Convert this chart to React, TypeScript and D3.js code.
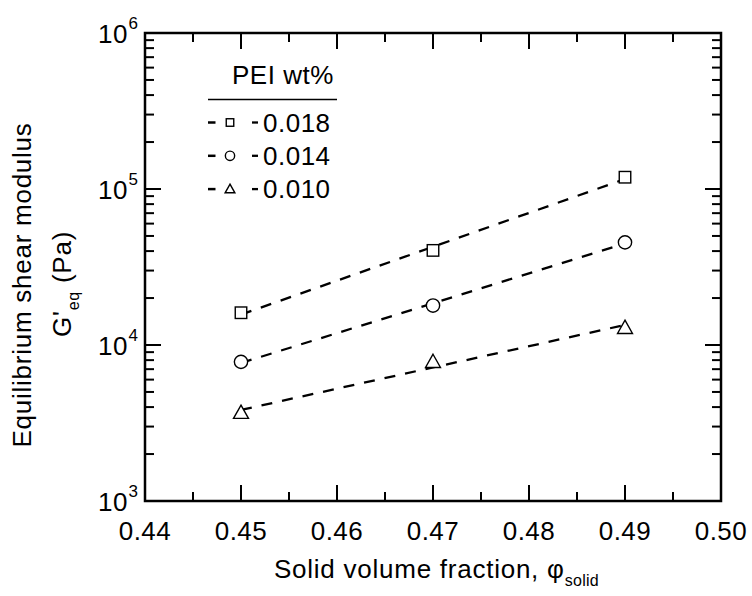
import React from "react";
import * as d3 from "d3";

const phiValues = [0.45, 0.47, 0.49];
const g018 = [16100, 40400, 119000];
const g014 = [7800, 17900, 45500];
const g010 = [3680, 7800, 12900];
const seriesLabels = ["0.018", "0.014", "0.010"];
const seriesShapes = ["square", "circle", "triangle"];
const xTickValues = [0.44, 0.45, 0.46, 0.47, 0.48, 0.49, 0.5];
const yTickExps = [3, 4, 5, 6];

const W = 752;
const H = 596;
const L = 145, R = 721, T = 33, B = 501;
const FONT = "'Liberation Sans', Arial, Helvetica, sans-serif";

function Marker({ shape, cx, cy, s }: { shape: string; cx: number; cy: number; s: number }) {
  const common = { fill: "#fff", stroke: "#000", strokeWidth: 1.4 };
  if (shape === "square") return <rect x={cx - s / 2} y={cy - s / 2} width={s} height={s} {...common} />;
  if (shape === "circle") return <circle cx={cx} cy={cy} r={s / 2 + 0.9} {...common} />;
  const h = s * 1.1;
  const w = s * 1.3;
  return <path d={`M${cx},${cy - h * 0.6} L${cx + w / 2},${cy + h * 0.45} L${cx - w / 2},${cy + h * 0.45} Z`} {...common} />;
}

function fit(xs: number[], ys: number[]) {
  const ly = ys.map((v) => Math.log10(v));
  const mx = d3.mean(xs)!;
  const my = d3.mean(ly)!;
  const sxy = d3.sum(xs.map((x, i) => (x - mx) * (ly[i] - my)));
  const sxx = d3.sum(xs.map((x) => (x - mx) ** 2));
  const b = sxy / sxx;
  const a = my - b * mx;
  return (x: number) => Math.pow(10, a + b * x);
}

export default function App() {
  const x = d3.scaleLinear().domain([0.44, 0.5]).range([L, R]);
  const y = d3.scaleLog().domain([1e3, 1e6]).range([B, T]);
  const series = [g018, g014, g010];

  const xMinor = d3.range(0.445, 0.5, 0.01);
  const yMinor: number[] = [];
  for (let e = 3; e < 6; e++) for (let m = 2; m <= 9; m++) yMinor.push(m * Math.pow(10, e));

  const major = 16, minor = 9;
  const lineGen = d3.line<number[]>().x((d) => x(d[0])).y((d) => y(d[1]));

  return (
    <div style={{ position: "absolute", left: 0, top: 0 }}>
      <svg width={W} height={H} style={{ display: "block", background: "#fff" }} fontFamily={FONT}>
        {xTickValues.map((v) => (
          <g key={"xt" + v}>
            <line x1={x(v)} x2={x(v)} y1={B} y2={B - major} stroke="#000" strokeWidth={2} />
            <line x1={x(v)} x2={x(v)} y1={T} y2={T + major} stroke="#000" strokeWidth={2} />
            <text x={x(v)} y={540} textAnchor="middle" fontSize={26} letterSpacing={0.5}>{v.toFixed(2)}</text>
          </g>
        ))}
        {xMinor.map((v) => (
          <g key={"xm" + v}>
            <line x1={x(v)} x2={x(v)} y1={B} y2={B - minor} stroke="#000" strokeWidth={2} />
            <line x1={x(v)} x2={x(v)} y1={T} y2={T + minor} stroke="#000" strokeWidth={2} />
          </g>
        ))}
        {yTickExps.map((e) => {
          const yy = y(Math.pow(10, e));
          return (
            <g key={"yt" + e}>
              <line x1={L} x2={L + major} y1={yy} y2={yy} stroke="#000" strokeWidth={2} />
              <line x1={R} x2={R - major} y1={yy} y2={yy} stroke="#000" strokeWidth={2} />
              <text x={128} y={yy + 9.5} textAnchor="end" fontSize={26} letterSpacing={0.5}>10</text>
              <text x={128.5} y={yy - 4} textAnchor="start" fontSize={17}>{e}</text>
            </g>
          );
        })}
        {yMinor.map((v) => (
          <g key={"ym" + v}>
            <line x1={L} x2={L + minor} y1={y(v)} y2={y(v)} stroke="#000" strokeWidth={2} />
            <line x1={R} x2={R - minor} y1={y(v)} y2={y(v)} stroke="#000" strokeWidth={2} />
          </g>
        ))}
        <rect x={L} y={T} width={R - L} height={B - T} fill="none" stroke="#000" strokeWidth={2.5} />

        {series.map((s, i) => {
          const f = fit(phiValues, s);
          const pts = [phiValues[0], phiValues[phiValues.length - 1]].map((p) => [p, f(p)]);
          return (
            <path key={"fl" + i} d={lineGen(pts) || ""} fill="none" stroke="#000" strokeWidth={2.3} strokeDasharray="11,10" />
          );
        })}
        {series.map((s, i) =>
          s.map((v, j) => <Marker key={"m" + i + j} shape={seriesShapes[i]} cx={x(phiValues[j])} cy={y(v)} s={11.5} />)
        )}

        <text x={232} y={84} fontSize={26} letterSpacing={0.5}>PEI wt%</text>
        <line x1={208} x2={337} y1={99.5} y2={99.5} stroke="#000" strokeWidth={1.5} />
        {seriesLabels.map((lab, i) => {
          const cy = 122.5 + i * 33.3;
          return (
            <g key={"lg" + i}>
              <line x1={208} x2={215.5} y1={cy} y2={cy} stroke="#000" strokeWidth={2.5} />
              <Marker shape={seriesShapes[i]} cx={230} cy={cy} s={7.5} />
              <line x1={252} x2={258} y1={cy} y2={cy} stroke="#000" strokeWidth={2.3} />
              <text x={263} y={cy + 9.3} fontSize={26} letterSpacing={0.5}>{lab}</text>
            </g>
          );
        })}

        <text x={274} y={578} textAnchor="start" fontSize={26} letterSpacing={0.75}>
          Solid volume fraction, φ<tspan fontSize={16} dy={8} letterSpacing={0.3}>solid</tspan>
        </text>
        <text transform="translate(31,285) rotate(-90)" textAnchor="middle" fontSize={26} letterSpacing={0.75}>Equilibrium shear modulus</text>
        <text transform="translate(71,284) rotate(-90)" textAnchor="middle" fontSize={26} letterSpacing={0.75}>
          G'<tspan fontSize={16} dy={8}>eq</tspan><tspan dy={-8}> (Pa)</tspan>
        </text>
      </svg>
    </div>
  );
}
